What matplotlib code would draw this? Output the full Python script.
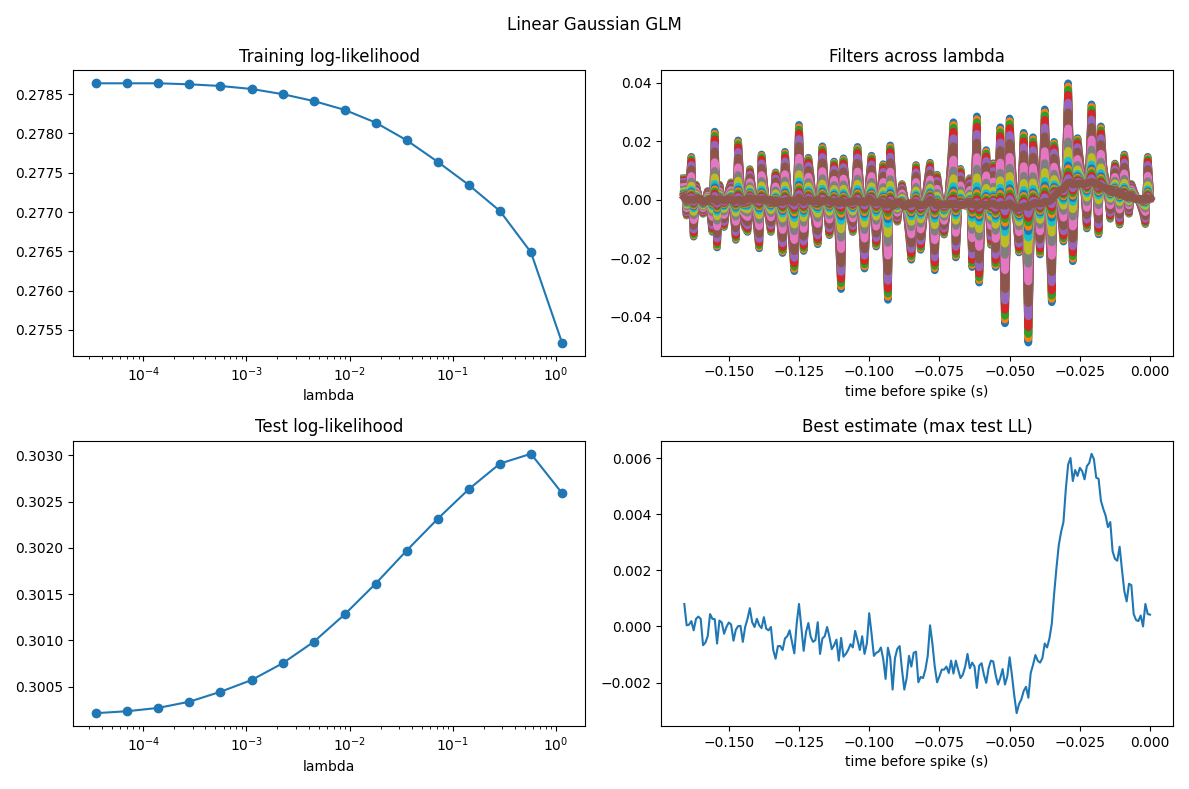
import numpy as np
import matplotlib.pyplot as plt

# regularisation strengths and log-likelihoods
lambdas = [3.50e-5, 7.00e-5, 1.40e-4, 2.80e-4, 5.60e-4, 1.12e-3, 2.24e-3, 4.48e-3,
           8.96e-3, 1.79e-2, 3.58e-2, 7.17e-2, 0.143, 0.287, 0.573, 1.147]
train_ll = [0.278638, 0.278638, 0.278638, 0.278625, 0.278604, 0.278566, 0.278500, 0.278413,
            0.278300, 0.278138, 0.277913, 0.277638, 0.277345, 0.277013, 0.276488, 0.275338]
test_ll = [0.300213, 0.300234, 0.300270, 0.300337, 0.300444, 0.300571, 0.300752, 0.300983,
           0.301281, 0.301614, 0.301972, 0.302316, 0.302635, 0.302912, 0.303018, 0.302593]

# best filter (max test LL), units of 1e-3
w_best = [
    0.80, 0.04, 0.06, 0.19, -0.14, 0.27, 0.35, 0.27, -0.67, -0.58,
    -0.35, 0.44, 0.27, 0.26, -0.61, 0.21, 0.14, -0.26, -0.02, 0.14,
    0.07, -0.51, -0.12, 0.01, 0.02, -0.55, -0.02, 0.27, 0.65, 0.15,
    -0.02, 0.27, 0.04, -0.06, 0.33, -0.08, -0.14, -0.02, -0.84, -1.15,
    -0.70, -0.70, -0.84, -0.43, -0.35, -0.14, -0.55, -0.96, 0.09, 0.80,
    -0.02, -0.87, -0.20, 0.12, -0.37, -0.55, -0.49, 0.15, -0.98, -0.43,
    -0.35, -0.02, -0.37, -0.81, -0.67,
    -0.47, -1.22, -0.41, -1.08, -0.98, -0.84, -0.63, -0.75, -0.16, -0.49,
    -0.84, -0.35, -0.98, -0.61, 0.47, -0.26, -1.05, -0.94, -0.90, -0.75,
    -1.17, -1.87, -0.76, -1.13, -2.25, -1.13, -0.80, -0.70, -1.54, -2.25,
    -1.84, -1.05, -1.43, -0.94, -0.90, -1.99, -1.80, -1.84, -1.54, -1.05,
    0.04, -0.61, -1.43, -1.99, -1.78, -1.54, -1.54, -1.43, -1.66, -1.22,
    -1.68, -1.22, -1.54, -1.84, -1.72, -1.43, -0.98, -1.49, -1.29, -1.43,
    -2.19, -1.40, -1.31, -1.72, -2.01, -1.49, -1.22,
    -1.25, -1.72, -2.07, -1.84, -1.52, -2.07, -1.78, -1.10, -1.75, -2.48,
    -3.09, -2.77, -2.60, -2.30, -2.15, -2.54, -1.66, -1.37, -1.02, -1.22,
    -1.29, -1.13, -0.61, -0.75, -0.43, 0.09, 1.15, 2.08, 2.90, 3.37,
    3.72, 4.89, 5.77, 6.00, 5.18, 5.57, 5.36, 5.65, 5.53, 5.24,
    5.71, 5.82, 6.15, 5.96, 5.30, 5.26, 4.48, 4.19,
    3.95, 3.54, 3.72, 2.67, 2.41, 2.34, 2.84, 2.02, 1.26, 0.89,
    1.52, 1.47, 0.44, 0.23, 0.19, 0.39, 0.00, 0.80, 0.44, 0.42,
]

# least regularised filter (smallest lambda), units of 1e-3
w_raw = [
    7.4, -5.4, 4.0, 14.7, -12.6, 5.2, 1.5, -2.0, -4.8, -0.5,
    3.0, -4.0, -11.0, 23.3, -16.3, 5.2, -2.0, -9.3, -2.5, 3.5,
    6.0, -3.5, -13.7, 20.3, 6.5, -6.6, -9.5, -11.0, 10.5, 4.0,
    -2.0, -9.0, -16.6, 15.5, 6.0, -1.0, -6.0, -11.0, -1.0, 9.4,
    3.0, -7.5, -18.2, 16.4, 5.5, -4.0, -14.0, -24.4, 0.5, 25.6,
    4.0, -17.5, -2.0, 14.4, 8.0, -1.5, -8.5, -15.2, 1.5, 18.3,
    6.0, -4.0, -12.1, 0.5, 13.1, 3.0, -13.5, -30.5, 14.2, 6.0,
    -1.0, -6.0, -11.0, 3.5, 18.1, 6.0, -9.0, -23.5, -5.0, 7.0,
    15.1, 0.0, -16.0, -6.0, 4.0, 12.2, -10.0, -34.2, 18.6, 6.0,
    -2.0, -7.5, -1.0, 5.4, 1.0, -4.0, -12.0, -20.5, -4.0, 11.9,
    -2.0, -17.1, -8.0, 0.5, 7.0, 12.7, -5.5, -24.1, 8.6, 2.0,
    -5.0, -11.9, -5.0, 3.0, 14.0, 26.5, -19.7, -4.0, 10.6, 3.0,
    -2.0, 1.5, 7.4, -23.0, 2.5, 28.5, -28.3, -6.0, 6.0, 17.0,
    1.0, -15.4, 12.5, -23.0, 2.0, 24.8, -8.0, -42.2, -6.0, 27.8,
    12.0, 1.0, -8.0, -18.0, 3.0, 22.9, -12.0, -48.8, -12.0, 21.4,
    10.0, -3.0, -18.7, 6.0, 30.9, 10.0, -12.0, -35.0, 19.8, 11.0,
    2.0, -6.0, -14.3, 12.0, 39.8, 10.0, -21.0, 2.0, 21.1, 14.0,
    6.0, 2.0, -9.8, 11.0, 32.6, 10.0, 3.0, -11.8, 25.1, 12.0,
    6.0, 2.0, -6.5, 4.0, 12.4, 3.0, -8.5, 4.0, 15.5, 5.0,
    -4.8, 5.4, 3.0, 1.0, 0.0, -2.0, -4.5, -8.3, 14.7, 2.0,
]

# fraction of the raw deviation kept at each lambda
shrink = [1.0, 0.968, 0.936, 0.887, 0.806, 0.709, 0.548, 0.418,
          0.322, 0.225, 0.177, 0.145, 0.113, 0.080, 0.048, 0.0]

n = len(w_best)
dt = 1 / 1200
t = (np.arange(n) - (n - 1)) * dt
best = np.array(w_best) * 1e-3
raw = np.array(w_raw) * 1e-3

fig, axes = plt.subplots(2, 2, figsize=(11.89, 7.89))
fig.suptitle('Linear Gaussian GLM')

ax = axes[0, 0]
ax.plot(lambdas, train_ll, 'o-')
ax.set_xscale('log')
ax.set_title('Training log-likelihood')
ax.set_xlabel('lambda')

ax = axes[1, 0]
ax.plot(lambdas, test_ll, 'o-')
ax.set_xscale('log')
ax.set_title('Test log-likelihood')
ax.set_xlabel('lambda')

ax = axes[0, 1]
for s in shrink:
    ax.plot(t, best + s * (raw - best), lw=5.5)
ax.set_title('Filters across lambda')
ax.set_xlabel('time before spike (s)')

ax = axes[1, 1]
ax.plot(t, best)
ax.set_title('Best estimate (max test LL)')
ax.set_xlabel('time before spike (s)')

plt.tight_layout()
plt.savefig('out.png', dpi=100)
